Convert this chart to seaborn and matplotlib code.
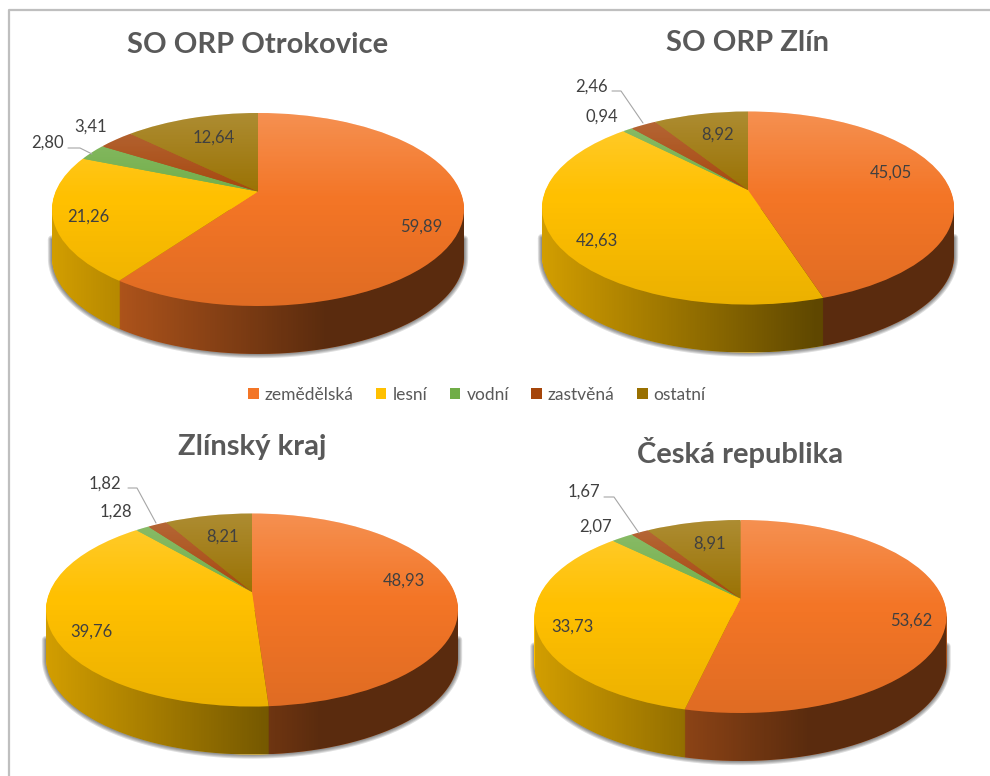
import numpy as np
import seaborn as sns
import matplotlib.pyplot as plt
import matplotlib.transforms as mtransforms
from matplotlib.lines import Line2D
from matplotlib.patches import Patch, PathPatch
from matplotlib.path import Path

# data
titles = ["SO ORP Otrokovice", "SO ORP Zlín", "Zlínský kraj", "Česká republika"]
categories = ["zemědělská", "lesní", "vodní", "zastvěná", "ostatní"]
otrokovice = [59.89, 21.26, 2.80, 3.41, 12.64]
zlin = [45.05, 42.63, 0.94, 2.46, 8.92]
kraj = [48.93, 39.76, 1.28, 1.82, 8.21]
cr = [53.62, 33.73, 2.07, 1.67, 8.91]
all_values = [otrokovice, zlin, kraj, cr]

colors = sns.color_palette(["#F37526", "#FFC000", "#70AD47", "#A5450A", "#997000"])

# layout in image pixels
W, H = 990, 776
RX, RY, DEPTH, APEX = 206, 96.5, 48, 18
centers = [(258, 209.5), (748, 208), (252, 610), (740.5, 616.5)]
title_pos = [(258, 45), (747, 43), (252, 447), (740, 452)]
label_pos = [
    [(421, 227), (88, 217), (47, 143), (91, 127), (214, 138)],
    [(891, 173), (597, 241), (602, 117), (591, 87), (718, 135)],
    [(404, 581), (91, 632), (116, 512), (105, 484), (223, 537)],
    [(911, 621), (572, 627), (595, 527), (584, 492), (710, 544)],
]
leaders = [
    [(68, 148), (80, 148), (92, 154)],
    [(612, 91), (621, 91), (643, 123)],
    [(128, 488), (137, 488), (156, 523)],
    [(604, 497), (614, 497), (639, 533)],
]

sns.set_theme(style="white")
plt.rcParams['font.family'] = ['Lato', 'DejaVu Sans']


# the flat pie seen from above, near edge bigger than far edge
class TiltTransform(mtransforms.Transform):
    input_dims = 2
    output_dims = 2
    is_separable = False
    k = 2 * APEX / (2 * RY)

    def transform_non_affine(self, values):
        x = values[:, 0]
        y = values[:, 1]
        w = 1 + self.k * y
        a = RX * np.sqrt(1 - self.k ** 2)
        return np.column_stack((a * x / w, (RY * y + APEX) / w))


tilt = TiltTransform()
pixels = mtransforms.Affine2D().scale(1, -1).translate(0, H)


def side_gradient():
    xs = np.linspace(-1, 1, 300)
    shade = np.interp(xs, [-1, 0.33, 1], [0.82, 0.37, 0.37])
    img = np.zeros((1, 300, 4))
    img[0, :, 3] = 1 - shade
    return img


def top_gradient():
    ys = np.linspace(0, 1, 300)
    img = np.ones((300, 1, 4))
    white = np.interp(ys, [0, 0.45, 1], [0.2, 0, 0])
    dark = np.interp(ys, [0, 0.45, 1], [0, 0, 0.08])
    img[:, 0, :3] = (white > 0)[:, None]
    img[:, 0, 3] = white + dark
    return img


def draw_pie(ax, values, drop, zorder):
    wedges, _ = ax.pie(values, colors=colors, startangle=90, counterclock=False,
                       wedgeprops={"linewidth": 0})
    for w in wedges:
        w.set_transform(tilt + mtransforms.Affine2D().translate(0, -drop) + ax.transData)
        w.set_zorder(zorder)


fig = plt.figure(figsize=(W / 100, H / 100), dpi=100, facecolor="white")

for i, values in enumerate(all_values):
    cx, cy = centers[i]
    ax = fig.add_axes([(cx - 240) / W, 1 - (cy + 170) / H, 480 / W, 340 / H])

    theta = np.linspace(np.pi, 2 * np.pi, 200)
    arc = np.column_stack((RX * np.cos(theta), RY * np.sin(theta) - DEPTH))

    # soft shadow behind the wall, open line so the ends stay round
    shadow = Path(np.vstack(([[-RX, -30]], arc, [[RX, -30]])))
    for lw in [6, 4.5, 3, 1.5]:
        ax.add_patch(PathPatch(shadow, facecolor="none", edgecolor=(0, 0, 0, 0.13),
                               linewidth=lw, zorder=1, capstyle="round", joinstyle="round"))

    # wall is the same pie stacked downwards
    for drop in range(DEPTH, 0, -1):
        draw_pie(ax, values, drop, 2)

    wall = Path(np.vstack((arc, [[RX, 0], [-RX, 0], arc[0]])))
    im = ax.imshow(side_gradient(), extent=(-RX, RX, -DEPTH - RY, 0), aspect="auto", zorder=3)
    im.set_clip_path(wall, transform=ax.transData)

    draw_pie(ax, values, 0, 4)
    im = ax.imshow(top_gradient(), extent=(-RX, RX, -RY, RY), aspect="auto", zorder=5)
    im.set_clip_path(Path.unit_circle(), transform=tilt + ax.transData)

    ax.set_aspect("auto")
    ax.set_xlim(-240, 240)
    ax.set_ylim(-170, 170)
    ax.axis("off")

    fig.text(title_pos[i][0], title_pos[i][1], titles[i], transform=pixels, ha="center", va="center",
             fontsize=21, fontweight="bold", color="#595959")
    for v, (x, y) in zip(values, label_pos[i]):
        fig.text(x, y, f"{v:.2f}".replace(".", ","), transform=pixels, ha="center", va="center",
                 fontsize=12, color="#404040", zorder=10)
    fig.add_artist(Line2D([p[0] for p in leaders[i]], [p[1] for p in leaders[i]], transform=pixels,
                          color="#A6A6A6", linewidth=0.8))

handles = [Patch(facecolor=c, edgecolor="none") for c in colors]
fig.legend(handles, categories, loc="center", bbox_to_anchor=(477 / W, 1 - 395 / H), ncols=5,
           frameon=False, fontsize=12.5, labelcolor="#595959", handlelength=0.6, handleheight=0.6,
           handletextpad=0.35, columnspacing=1.3)

# frame of the pasted picture
fig.add_artist(Line2D([9, 9, W], [H, 10, 10], transform=pixels, color="#BFBFBF", linewidth=1.6))

fig.savefig("out.png", dpi=100)
